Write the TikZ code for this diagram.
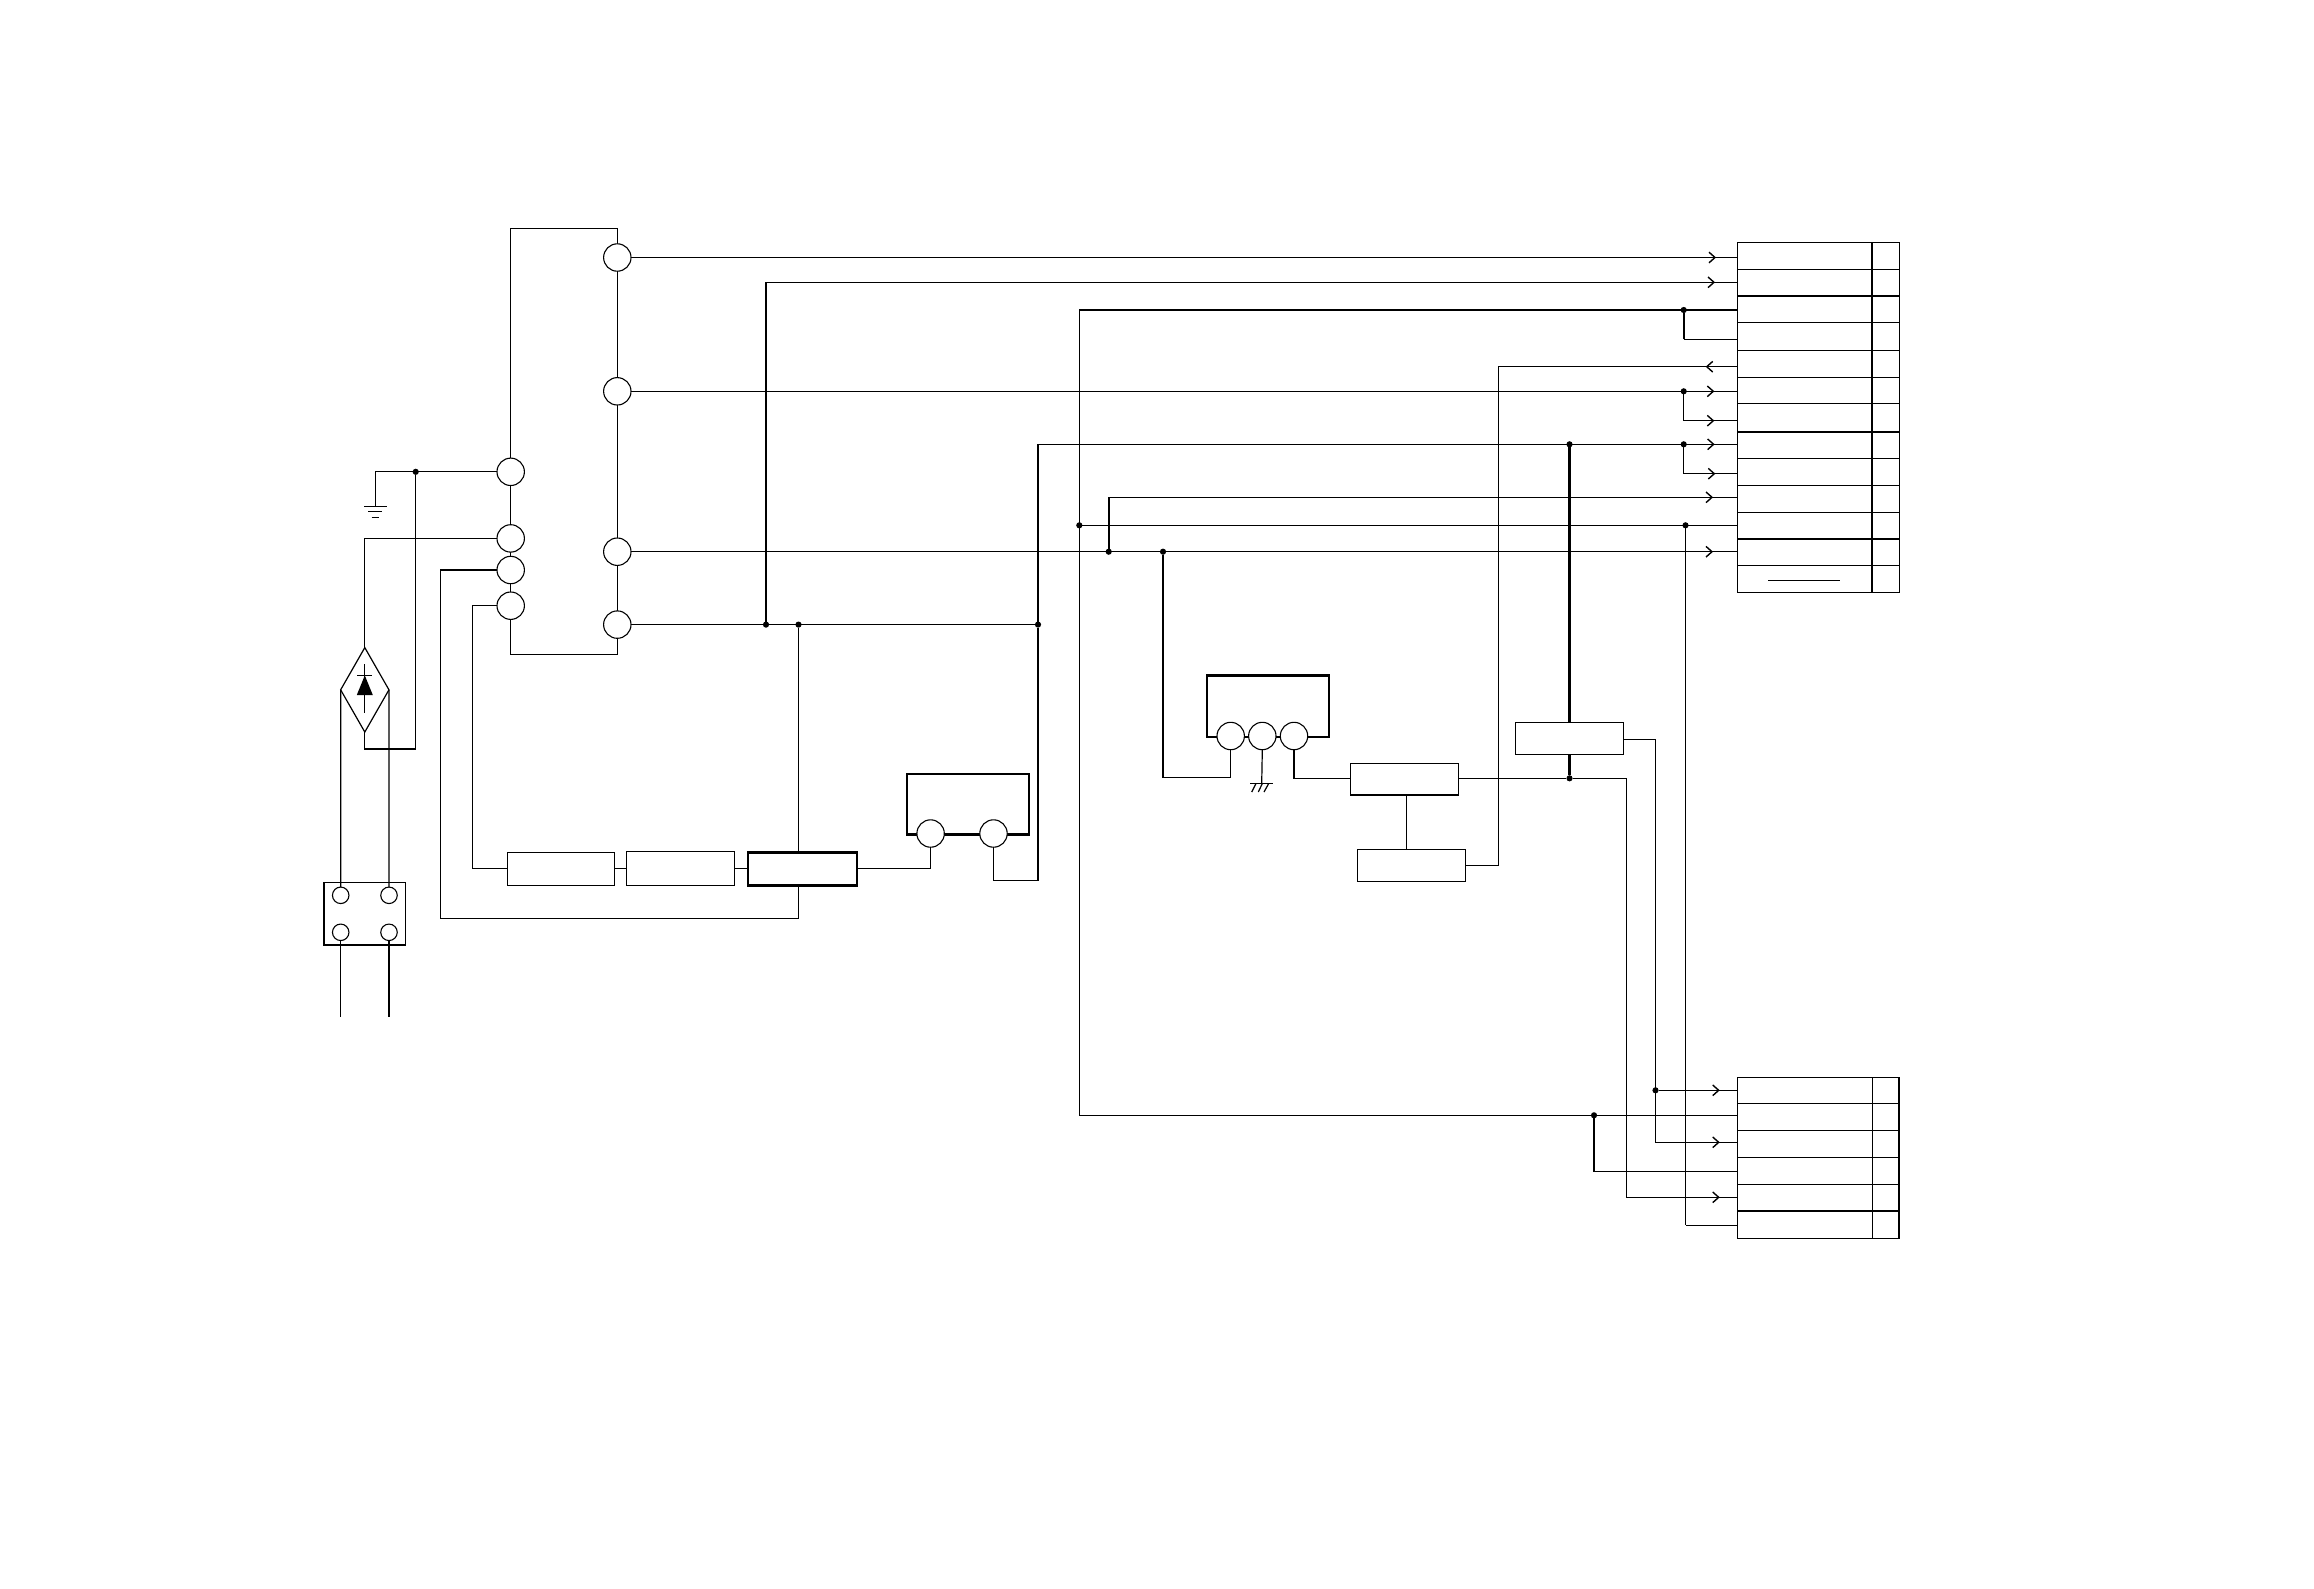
\documentclass[tikz,border=0pt]{standalone}
\usetikzlibrary{shapes.geometric}
\tikzset{
  x=1pt,y=-1pt,
  wire/.style={line width=1.2pt,draw=black,line join=miter},
  thickwire/.style={line width=2.2pt,draw=black},
  midwire/.style={line width=1.5pt,draw=black},
  pinc/.style={circle,draw=black,fill=white,line width=1.1pt,inner sep=0pt,outer sep=0pt,minimum size=27.4pt},
  smallc/.style={circle,draw=black,fill=white,line width=1.1pt,inner sep=0pt,outer sep=0pt,minimum size=16.5pt},
  junc/.style={circle,fill=black,inner sep=0pt,outer sep=0pt,minimum size=6.2pt},
  rbox/.style={rectangle,draw=black,fill=white,line width=1.2pt,inner sep=0pt,outer sep=0pt},
  tbox/.style={rbox,line width=2.7pt},
  headr/.pic={\draw[line width=1.4pt] (-6,-5.3) -- (0,0) -- (-6,5.3);},
  headl/.pic={\draw[line width=1.4pt] (6,-5.3) -- (0,0) -- (6,5.3);}
}
\newcommand{\bx}[6][rbox]{\node[#1,minimum width={(#4)-(#2)},minimum height={(#5)-(#3)}] (#6) at ({((#2)+(#4))/2},{((#3)+(#5))/2}) {};}
\begin{document}
\begin{tikzpicture}
\fill[white] (0,0) rectangle (2314,1588);
\useasboundingbox (0,0) rectangle (2314,1588);
% main block
\bx[rbox,fill=none]{510.7}{228.2}{617.3}{654.3}{MB}
\node[pinc] (R1) at (617.3,257.5) {};
\node[pinc] (R2) at (617.3,391.3) {};
\node[pinc] (R3) at (617.3,551.7) {};
\node[pinc] (R4) at (617.3,624.6) {};
\node[pinc] (L1) at (510.7,471.8) {};
\node[pinc] (L2) at (510.7,538.4) {};
\node[pinc] (L3) at (510.7,570) {};
\node[pinc] (L4) at (510.7,605.7) {};
% tables
\foreach \a/\b [count=\i] in {242.7/269.3,269.3/296,296/322.3,322.3/350.3,350.3/377.7,377.7/403.7,403.7/432,432/458.7,458.7/485.3,485.3/512.3,512.3/539,539/565.7,565.7/592.7}{
  \bx{1737.7}{\a}{1872}{\b}{TA\i}
  \bx{1872}{\a}{1899.3}{\b}{TB\i}
}
\foreach \a/\b [count=\i] in {1077.3/1103.3,1103.3/1130.3,1130.3/1157.3,1157.3/1184.3,1184.3/1210.7,1210.7/1238.3}{
  \bx{1737.7}{\a}{1872.5}{\b}{UA\i}
  \bx{1872.5}{\a}{1899}{\b}{UB\i}
}
\draw[line width=2.2pt] (UA6.north west) -- (UB6.north east);
\draw[wire] (1768,580.3) -- (1840,580.3);
% boxes
\bx{507.7}{852.3}{614.8}{885.3}{BA}
\bx{626.5}{851.3}{734.7}{885.3}{BB}
\bx[tbox]{748}{852.7}{857.1}{885.7}{BT}
\bx[tbox,line width=2.5pt]{907.1}{774}{1029}{834.7}{PA}
\bx[tbox,line width=2.5pt]{1207}{675.7}{1329}{737}{PB}
\bx{1350.3}{763.7}{1458.7}{795}{BC}
\draw[line width=2.2pt] (BC.south west) -- (BC.south east);
\bx{1357.3}{849.3}{1465.7}{881.3}{BD}
\bx{1515.3}{722.3}{1623.7}{754.7}{BE}
\node[pinc] (PA1) at (930.6,833.5) {};
\node[pinc] (PA2) at (993.5,833.5) {};
\node[pinc] (PB1) at (1230.7,736) {};
\node[pinc] (PB2) at (1262.3,736) {};
\node[pinc] (PB3) at (1294,736) {};
% connector block
\bx{324}{882.7}{405.6}{945}{CN}
\node[smallc] (CA) at (340.7,895.3) {};
\node[smallc] (CB) at (389,895.3) {};
\node[smallc] (CC) at (340.7,932.3) {};
\node[smallc] (CD) at (389,932.3) {};
\coordinate (CCend) at (340.7,1016.7);
\coordinate (CDend) at (389,1016.7);
\draw[wire] (CC.south) -- (CCend);
\draw[wire] (CD.south) -- (CDend);
% bridge
\node[diamond,draw=black,fill=white,line width=1.2pt,aspect=0.572,inner sep=0pt,outer sep=0pt,minimum width=48.3pt,minimum height=84.4pt] (DI) at (364.8,689.8) {};
\draw[wire] (364.8,664.3) -- (364.8,712.5);
\draw[wire] (357.3,675.4) -- (372.3,675.4);
\fill[black] (364.8,675.4) -- (372.8,695) -- (356.8,695) -- cycle;
\draw[wire] (DI.west) -- (CA.north);
\draw[wire] (DI.east) -- (CB.north);
% junctions
\node[junc] (J1) at (415.7,471.8) {};
\node[junc] (J2) at (766,624.6) {};
\node[junc] (J3) at (798.5,624.6) {};
\node[junc] (J4) at (1038,624.6) {};
\node[junc] (J5) at (1683.7,310) {};
\node[junc] (J6) at (1683.7,391.3) {};
\node[junc] (J7) at (1683.7,444.3) {};
\node[junc] (J8) at (1685.5,525.3) {};
\node[junc] (J9) at (1079.3,525.3) {};
\node[junc] (J10) at (1108.7,551.7) {};
\node[junc] (J11) at (1163,551.7) {};
\node[junc] (J12) at (1569.5,444.3) {};
\node[junc] (J13) at (1569.5,778.3) {};
\node[junc] (J14) at (1655.5,1090.3) {};
\node[junc] (J15) at (1594,1115.3) {};
% ground
\coordinate (G) at (375.3,506.4);
\draw[wire] (L1.west) -- (G |- L1.west) -- (G);
\draw[wire] (364,506.4) -- (386.7,506.4) (368.3,511.8) -- (382.3,511.8) (371.7,517.1) -- (379,517.1);
% bridge wires
\coordinate (KB) at (415.7,749);
\draw[wire] (J1) -- (KB) -- (DI.south |- KB) -- (DI.south);
\coordinate (K2) at (364.8,538.4);
\draw[wire] (L2.west) -- (K2) -- (DI.north);
% left wires
\coordinate (K3) at (440.3,570);
\coordinate (K3b) at (440.3,918.3);
\draw[wire] (L3.west) -- (K3) -- (K3b) -- (J3 |- K3b) -- (J3 |- BT.south);
\draw[wire] (J3 |- BT.north) -- (J3);
\coordinate (K4) at (472.4,605.7);
\draw[wire] (L4.west) -- (K4) -- (K4 |- BA.west) -- (BA.west);
\draw[wire] (BA.east) -- (BB.west |- BA.east);
\draw[wire] (BB.east |- BA.east) -- (BT.west |- BA.east);
\draw[wire] (BT.east |- BA.east) -- (PA1.south |- BA.east) -- (PA1.south);
\coordinate (K5) at (993.5,880.3);
\draw[wire] (PA2.south) -- (K5) -- (J4 |- K5) -- (J4);
% top wires to table 1
\coordinate (P1) at (1737.7,257.5);
\coordinate (P2) at (1737.7,282.3);
\coordinate (P3) at (1737.7,310);
\coordinate (P4) at (1737.7,339.3);
\coordinate (P5) at (1737.7,366.7);
\coordinate (P6) at (1737.7,391.3);
\coordinate (P7) at (1737.7,420.7);
\coordinate (P8) at (1737.7,444.3);
\coordinate (P9) at (1737.7,473.7);
\coordinate (P10) at (1737.7,497.3);
\coordinate (P11) at (1737.7,525.3);
\coordinate (P12) at (1737.7,551.7);
\draw[wire] (R1.east) -- (P1);
\draw[wire] (R2.east) -- (P6);
\draw[wire] (R3.east) -- (P12);
\draw[wire] (R4.east) -- (J4);
\draw[wire] (J2) -- (J2 |- P2) -- (P2);
\draw[wire] (J4) -- (J4 |- P8) -- (P8);
\draw[wire] (J9 |- P3) -- (P3);
\draw[thickwire] (J5) -- (J5 |- P4);
\draw[wire] (J5 |- P4) -- (P4);
\draw[midwire] (J6) -- (J6 |- P7);
\draw[wire] (J6 |- P7) -- (P7);
\draw[midwire] (J7) -- (J7 |- P9);
\draw[wire] (J7 |- P9) -- (P9);
\draw[wire] (J9) -- (P11);
\draw[thickwire] (J10) -- (J10 |- P10);
\draw[wire] (J10 |- P10) -- (P10);
% long vertical
\coordinate (V1) at (1079.3,1115.3);
\draw[wire] (J9 |- P3) -- (V1);
\coordinate (P13) at (1737.7,1115.3);
\draw[wire] (V1) -- (P13);
% instrument block wires
\coordinate (K6) at (1230.7,777.7);
\draw[wire] (PB1.south) -- (K6) -- (J11 |- K6) -- (J11);
\coordinate (GH) at (1261.7,783.5);
\draw[wire] (PB2.south) -- (GH);
\draw[wire] (1250.3,783.5) -- (1272.7,783.5);
\draw[wire] (1256,783.5) -- (1251.7,792) (1262.3,783.5) -- (1258.3,792) (1268.7,783.5) -- (1264,792);
\draw[wire] (PB3.south) -- (PB3.south |- J13) -- (BC.west |- J13);
\draw[wire] (BC.east |- J13) -- (J13);
\coordinate (K7) at (1406.7,795);
\draw[wire] (K7) -- (K7 |- BD.north);
\coordinate (K8) at (1498.7,865.3);
\draw[wire] (BD.east) -- (K8) -- (K8 |- P5) -- (P5);
\draw[thickwire] (J12) -- (BE.north);
\draw[thickwire] (BE.south) -- (J13);
% to table 2
\coordinate (Q1) at (1737.7,1090.3);
\coordinate (Q3) at (1737.7,1142.3);
\coordinate (Q4) at (1737.7,1171.3);
\coordinate (Q5) at (1737.7,1197.3);
\coordinate (Q6) at (1737.7,1225.3);
\coordinate (K9) at (1626.3,778.3);
\draw[wire] (J13) -- (K9) -- (K9 |- Q5) -- (Q5);
\coordinate (K10) at (1655.5,739.3);
\draw[wire] (BE.east |- K10) -- (K10) -- (K10 |- Q3) -- (Q3);
\draw[wire] (J14) -- (Q1);
\draw[wire] (J15) -- (J15 |- Q4) -- (Q4);
\draw[midwire] (J8) -- (J8 |- Q6);
\draw[wire] (J8 |- Q6) -- (Q6);
% arrowheads
\pic at (1715,257.5) {headr};
\pic at (1714,282.3) {headr};
\pic at (1706.7,366.7) {headl};
\pic at (1713.3,391.3) {headr};
\pic at (1713.3,420.7) {headr};
\pic at (1713.6,444.3) {headr};
\pic at (1714.3,473.7) {headr};
\pic at (1712,497.3) {headr};
\pic at (1712,551.7) {headr};
\pic at (1718.7,1090.3) {headr};
\pic at (1718.7,1142.3) {headr};
\pic at (1718.7,1197.3) {headr};
\end{tikzpicture}
\end{document}
